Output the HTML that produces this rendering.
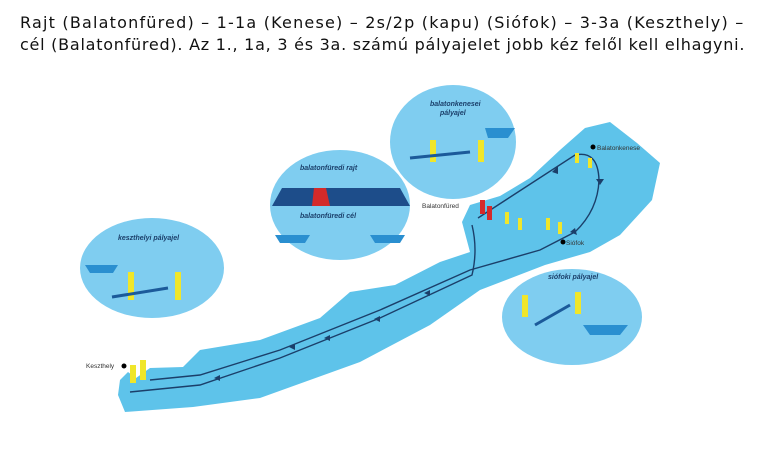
<!DOCTYPE html>
<html><head><meta charset="utf-8"><style>
body{margin:0;background:#fff;width:764px;height:450px;overflow:hidden;font-family:"DejaVu Sans","Liberation Sans",sans-serif}
.t{position:absolute;left:20px;font-size:16px;line-height:22px;color:#111;white-space:nowrap}
svg{position:absolute;left:0;top:0}
</style></head><body>
<svg width="764" height="450" viewBox="0 0 764 450">
<path d="M120,380 L128,372 L136,378 L150,368 L183,367 L200,350 L260,340 L320,318 L350,292 L395,285 L440,262 L470,252 L462,222 L470,205 L500,196 L530,178 L560,150 L585,128 L610,122 L637,143 L660,163 L652,200 L620,235 L590,252 L545,265 L480,290 L430,325 L360,362 L260,398 L193,407 L125,412 L118,395 Z" fill="#5ec3ea"/>
<ellipse cx="152" cy="268" rx="72" ry="50" fill="#7fcdf0"/>
<ellipse cx="340" cy="205" rx="70" ry="55" fill="#7fcdf0"/>
<ellipse cx="453" cy="142" rx="63" ry="57" fill="#7fcdf0"/>
<ellipse cx="572" cy="317" rx="70" ry="48" fill="#7fcdf0"/>
<g fill="none" stroke="#1b3f6a" stroke-width="1.4">
<path d="M478,218 L575,155 Q598,150 599,180 Q598,210 575,232 L540,250 L470,270 L380,310 L280,350 L200,375 L150,380"/>
<path d="M472,225 Q478,250 472,275 L380,318 L280,358 L200,385 L130,392"/>
</g>
<g fill="#1b3f6a">
<polygon points="552,172 558,166 558,174"/><polygon points="600,185 596,179 604,179"/><polygon points="575,228 570,232 577,235"/>
<polygon points="380,316 374,319 380,322"/><polygon points="295,344 289,347 295,350"/><polygon points="220,375 214,378 220,381"/>
<polygon points="430,290 424,293 430,296"/><polygon points="330,335 324,338 330,341"/>
</g>
<rect x="480" y="200" width="5" height="14" fill="#d42a2a"/><rect x="487" y="206" width="5" height="14" fill="#d42a2a"/>
<rect x="505" y="212" width="4" height="12" fill="#f0e62a"/><rect x="518" y="218" width="4" height="12" fill="#f0e62a"/>
<rect x="546" y="218" width="4" height="12" fill="#f0e62a"/><rect x="558" y="222" width="4" height="12" fill="#f0e62a"/>
<rect x="575" y="153" width="4" height="10" fill="#f0e62a"/><rect x="588" y="158" width="4" height="10" fill="#f0e62a"/>
<rect x="130" y="365" width="6" height="18" fill="#f0e62a"/><rect x="140" y="360" width="6" height="20" fill="#f0e62a"/>
<circle cx="593" cy="147" r="2.5" fill="#000"/><circle cx="563" cy="242" r="2.5" fill="#000"/><circle cx="124" cy="366" r="2.5" fill="#000"/>
<g font-size="6.5" fill="#333" font-family="Liberation Sans"><text x="597" y="150">Balatonkenese</text><text x="566" y="245">Siófok</text><text x="86" y="368">Keszthely</text><text x="422" y="208">Balatonfüred</text></g>
<g font-size="7" font-style="italic" font-weight="bold" fill="#1b3f6a" font-family="Liberation Sans">
<text x="118" y="240">keszthelyi pályajel</text><text x="300" y="170">balatonfüredi rajt</text><text x="300" y="218">balatonfüredi cél</text>
<text x="430" y="106">balatonkenesei</text><text x="440" y="115">pályajel</text><text x="548" y="279">siófoki pályajel</text></g>
<polygon points="272,206 410,206 400,188 282,188" fill="#1d4d8a"/><polygon points="312,206 330,206 326,188 314,188" fill="#d42a2a"/>
<rect x="430" y="140" width="6" height="22" fill="#f0e62a"/><rect x="478" y="140" width="6" height="22" fill="#f0e62a"/>
<path d="M410,158 L470,152" stroke="#1b5a9a" stroke-width="3"/>
<path d="M485,128 L515,128 L508,138 L488,138 Z" fill="#2a8fd0"/>
<rect x="128" y="272" width="6" height="28" fill="#f0e62a"/><rect x="175" y="272" width="6" height="28" fill="#f0e62a"/>
<path d="M112,297 L168,288" stroke="#1b5a9a" stroke-width="3"/>
<rect x="522" y="295" width="6" height="22" fill="#f0e62a"/><rect x="575" y="292" width="6" height="22" fill="#f0e62a"/>
<path d="M570,305 L535,325" stroke="#1b5a9a" stroke-width="3"/>
<path d="M583,325 L628,325 L620,335 L590,335 Z" fill="#2a8fd0"/>
<path d="M275,235 L310,235 L305,243 L280,243 Z M370,235 L405,235 L400,243 L375,243 Z M85,265 L118,265 L113,273 L90,273 Z" fill="#2a8fd0"/>
</svg>
<div class="t" style="top:12px;letter-spacing:1.2px">Rajt (Balatonfüred) – 1-1a (Kenese) – 2s/2p (kapu) (Siófok) – 3-3a (Keszthely) –</div>
<div class="t" style="top:34px;letter-spacing:0.75px">cél (Balatonfüred). Az 1., 1a, 3 és 3a. számú pályajelet jobb kéz felől kell elhagyni.</div>
</body></html>
